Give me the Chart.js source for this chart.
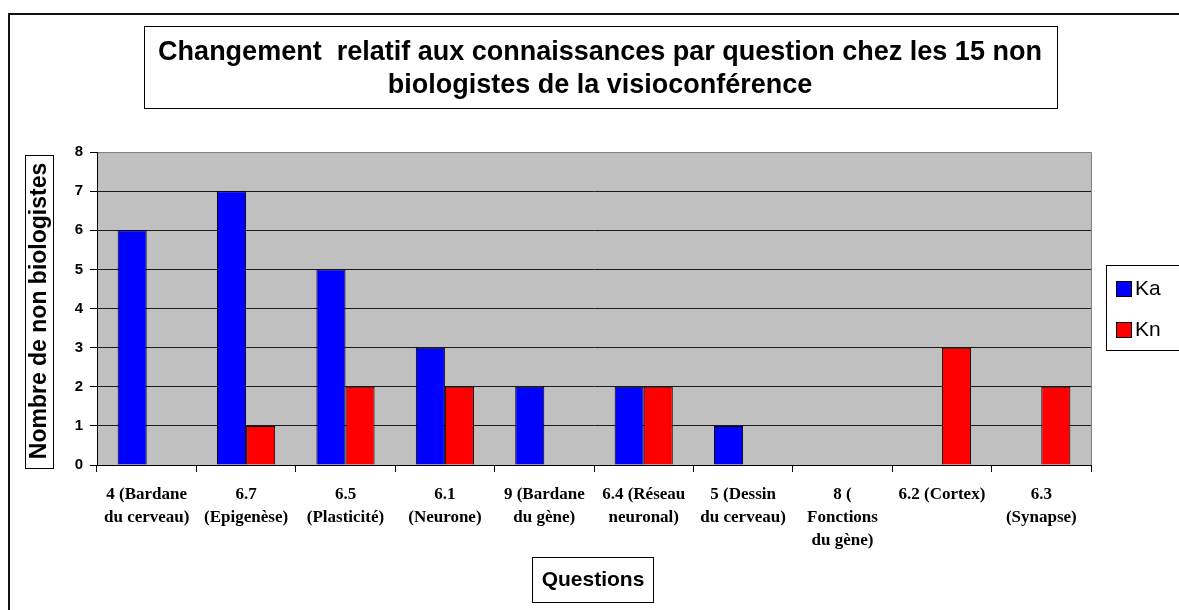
<!DOCTYPE html>
<html>
<head>
<meta charset="utf-8">
<title>Changement relatif aux connaissances</title>
<script src="https://cdn.jsdelivr.net/npm/chart.js@4.4.1/dist/chart.umd.min.js"></script>
<style>
    html, body { margin: 0; padding: 0; background: #fff; overflow: hidden; }
    #wrap { width: 1179px; height: 610px; }
</style>
</head>
<body>
<div id="wrap"><canvas id="knowledgeChart" width="1179" height="610"></canvas></div>
<script>
// Data
const questions = [
    ['4 (Bardane', 'du cerveau)'],
    ['6.7', '(Epigenèse)'],
    ['6.5', '(Plasticité)'],
    ['6.1', '(Neurone)'],
    ['9 (Bardane', 'du gène)'],
    ['6.4 (Réseau', 'neuronal)'],
    ['5 (Dessin', 'du cerveau)'],
    ['8 (', 'Fonctions', 'du gène)'],
    ['6.2 (Cortex)'],
    ['6.3', '(Synapse)']
];
const seriesNames = ['Ka', 'Kn'];
const kaValues = [6, 7, 5, 3, 2, 2, 1, 0, 0, 0];
const knValues = [0, 1, 2, 2, 0, 2, 0, 0, 3, 2];
const seriesColors = ['#0000ff', '#ff0000'];
const yMax = 8;

const titleLines = ['Changement  relatif aux connaissances par question chez les 15 non', 'biologistes de la visioconférence'];
const xTitle = 'Questions';
const yTitle = 'Nombre de non biologistes';

const SANS = "'Liberation Sans', Arial, sans-serif";
const SERIF = "'Liberation Serif', 'Times New Roman', serif";

// Background, framed boxes, titles and the (cut off) legend
const chartFrame = {
    id: 'chartFrame',
    beforeDraw(chart) {
        const { ctx, chartArea: a } = chart;
        ctx.save();
        ctx.fillStyle = '#fff';
        ctx.fillRect(0, 0, chart.width, chart.height);
        ctx.fillStyle = '#c0c0c0';
        ctx.fillRect(a.left, a.top, a.right - a.left, a.bottom - a.top);
        ctx.strokeStyle = '#808080';
        ctx.lineWidth = 1;
        ctx.beginPath();
        ctx.moveTo(a.left, a.top + 0.5);
        ctx.lineTo(a.right + 0.5, a.top + 0.5);
        ctx.lineTo(a.right + 0.5, a.bottom);
        ctx.stroke();
        ctx.restore();
    },
    afterDraw(chart) {
        const ctx = chart.ctx;
        ctx.save();

        // outer frame (only top and left visible)
        ctx.strokeStyle = '#111';
        ctx.lineWidth = 2;
        ctx.beginPath();
        ctx.moveTo(9, chart.height);
        ctx.lineTo(9, 14);
        ctx.lineTo(chart.width, 14);
        ctx.stroke();

        ctx.lineWidth = 1;
        ctx.strokeStyle = '#000';
        ctx.fillStyle = '#000';
        ctx.textAlign = 'center';
        ctx.textBaseline = 'middle';

        // chart title
        ctx.strokeRect(144.5, 26.5, 913, 82);
        ctx.font = 'bold 27px ' + SANS;
        ctx.fillText(titleLines[0], 600, 53);
        ctx.fillText(titleLines[1], 600, 86);

        // x axis title
        ctx.strokeRect(532.5, 557.5, 121, 45);
        ctx.font = 'bold 21px ' + SANS;
        ctx.fillText(xTitle, 593, 580);

        // y axis title
        ctx.strokeRect(25.5, 155.5, 28, 313);
        ctx.translate(40, 311);
        ctx.rotate(-Math.PI / 2);
        ctx.font = 'bold 23px ' + SANS;
        ctx.fillText(yTitle, 0, 0);
        ctx.setTransform(1, 0, 0, 1, 0, 0);

        // legend, runs past the right edge
        ctx.fillStyle = '#fff';
        ctx.fillRect(1106, 265, 120, 85);
        ctx.strokeRect(1106.5, 265.5, 120, 85);
        ctx.font = '21px ' + SANS;
        ctx.textAlign = 'left';
        chart.data.datasets.forEach((ds, i) => {
            const cy = 288 + i * 41;
            ctx.fillStyle = ds.backgroundColor;
            ctx.fillRect(1116, cy - 7, 15, 15);
            ctx.strokeRect(1116.5, cy - 6.5, 15, 15);
            ctx.fillStyle = '#000';
            ctx.fillText(ds.label, 1135, cy + 1);
        });
        ctx.restore();
    }
};

const ctx = document.getElementById('knowledgeChart').getContext('2d');
const knowledgeChart = new Chart(ctx, {
    type: 'bar',
    data: {
        labels: questions,
        datasets: [
            {
                label: seriesNames[0],
                data: kaValues,
                backgroundColor: seriesColors[0],
                borderColor: '#000',
                borderWidth: 1
            },
            {
                label: seriesNames[1],
                data: knValues,
                backgroundColor: seriesColors[1],
                borderColor: '#000',
                borderWidth: 1
            }
        ]
    },
    options: {
        responsive: false,
        animation: false,
        layout: {
            padding: { left: 0, top: 152, right: 88, bottom: 0 }
        },
        datasets: {
            bar: { categoryPercentage: 0.585, barPercentage: 1 }
        },
        plugins: {
            legend: { display: false },
            title: { display: false },
            tooltip: { enabled: false }
        },
        scales: {
            x: {
                grid: {
                    offset: true,
                    drawOnChartArea: false,
                    tickLength: 7,
                    color: '#000'
                },
                border: { color: '#000', width: 1 },
                ticks: {
                    color: '#000',
                    padding: 11,
                    maxRotation: 0,
                    autoSkip: false,
                    font: { family: SERIF, size: 17, weight: 'bold', lineHeight: 1.35 }
                },
                afterFit: function(scale) {
                    scale.height = 145;
                }
            },
            y: {
                min: 0,
                max: yMax,
                grid: {
                    color: function(c) {
                        return c.tick && c.tick.value === yMax ? '#808080' : '#1a1a1a';
                    },
                    tickColor: '#000',
                    tickLength: 7
                },
                border: { color: '#000', width: 1 },
                ticks: {
                    stepSize: 1,
                    color: '#000',
                    padding: 7,
                    font: { family: SANS, size: 15, weight: 'bold' }
                },
                afterFit: function(scale) {
                    scale.width = 97;
                }
            }
        }
    },
    plugins: [chartFrame]
});
</script>
</body>
</html>
